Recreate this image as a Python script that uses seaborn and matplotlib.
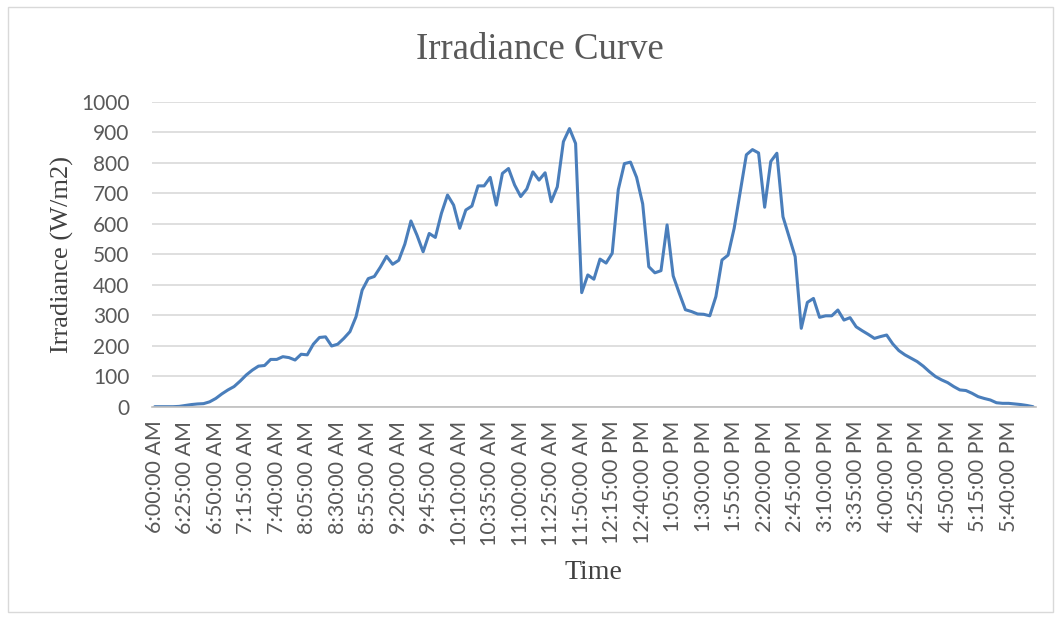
import matplotlib
matplotlib.use("Agg")
import matplotlib.pyplot as plt
from matplotlib.patches import Rectangle
import pandas as pd
import seaborn as sns

# irradiance readings every 5 minutes, 6:00 AM .. 6:00 PM
irradiance = [
    0, 0, 0, 0, 1, 4, 7, 9, 10, 16,
    27, 42, 55, 66, 84, 104, 120, 133, 135, 155,
    155, 164, 161, 153, 172, 170, 205, 227, 229, 199,
    205, 224, 246, 295, 382, 420, 427, 458, 493, 467,
    480, 533, 609, 562, 508, 568, 555, 634, 694, 661,
    585, 645, 658, 724, 724, 752, 661, 765, 781, 727,
    689, 714, 770, 743, 767, 672, 721, 869, 912, 863,
    374, 432, 418, 484, 471, 503, 712, 797, 802, 752,
    665, 459, 439, 446, 596, 429, 372, 318, 312, 304,
    303, 298, 361, 481, 497, 585, 705, 826, 843, 832,
    654, 804, 831, 623, 557, 492, 257, 342, 355, 293,
    298, 298, 317, 284, 292, 262, 249, 237, 224, 230,
    235, 206, 184, 170, 159, 148, 133, 115, 99, 88,
    79, 66, 55, 53, 44, 33, 27, 22, 13, 11,
    11, 9, 7, 4, 0,
]

times = pd.date_range("2020-01-01 06:00", periods=len(irradiance), freq="5min")
time_labels = [t.strftime("%-I:%M:%S %p") for t in times]

df = pd.DataFrame({"idx": range(len(irradiance)), "time": time_labels, "irradiance": irradiance})

sns.set_style("white")
serif = ["Liberation Serif", "DejaVu Serif"]
tick_font = ["Lato", "DejaVu Sans"]

fig = plt.figure(figsize=(10.61, 6.21), dpi=100)
ax = fig.add_axes([0.143, 0.3451, 0.8335, 0.4911])

sns.lineplot(data=df, x="idx", y="irradiance", ax=ax, color="#4a7ebb", linewidth=2.2)

ax.set_xlim(-0.5, len(irradiance) - 0.5)
ax.set_ylim(0, 1000)
ax.set_yticks(range(0, 1001, 100))
ax.yaxis.grid(True, color="#d9d9d9", linewidth=1.2)
ax.xaxis.grid(False)

step = 5
ax.set_xticks(df["idx"][::step])
ax.set_xticklabels(df["time"][::step], rotation=90, family=tick_font, fontsize=15.5, color="#595959")
for lab in ax.get_yticklabels():
    lab.set_family(tick_font)
    lab.set_fontsize(15)
    lab.set_color("#595959")
ax.tick_params(axis="x", length=0, pad=10)
ax.tick_params(axis="y", length=0, pad=16)

for side in ["top", "right", "left"]:
    ax.spines[side].set_visible(False)
ax.spines["bottom"].set_color("#bfbfbf")
ax.spines["bottom"].set_linewidth(1.2)

ax.set_xlabel("Time", family=serif, fontsize=20, color="#404040", labelpad=10)
ax.set_ylabel("Irradiance (W/m2)", family=serif, fontsize=19, color="#404040", labelpad=5)
fig.text(0.509, 0.92, "Irradiance Curve", family=serif, fontsize=26.5, color="#595959",
         ha="center", va="center")

fig.patches.append(Rectangle((0.0075, 0.015), 0.985, 0.973, transform=fig.transFigure,
                             fill=False, edgecolor="#d9d9d9", linewidth=1))

fig.savefig("out.png", dpi=100)
